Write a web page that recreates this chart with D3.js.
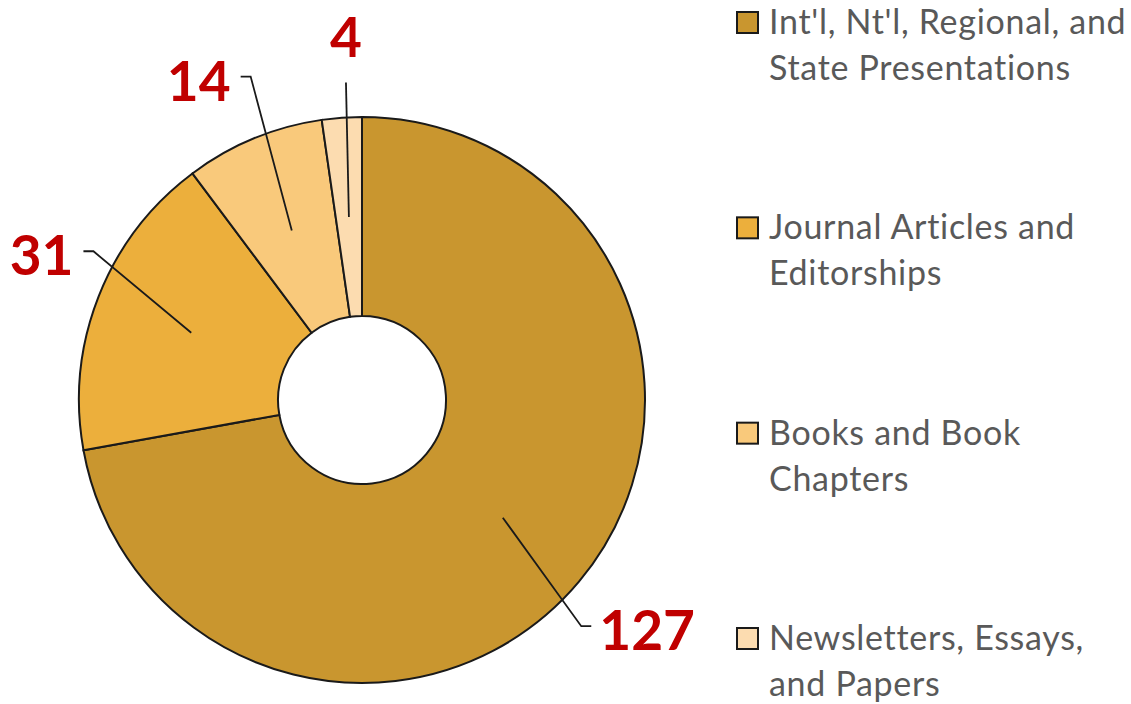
<!DOCTYPE html>
<html>
<head>
<meta charset="utf-8">
<script src="https://cdn.jsdelivr.net/npm/d3@7"></script>
<style>
  body { margin: 0; background: #fff; }
  svg { display: block; }
</style>
</head>
<body>
<script>
// data
const categories = [
  "Int'l, Nt'l, Regional, and State Presentations",
  "Journal Articles and Editorships",
  "Books and Book Chapters",
  "Newsletters, Essays, and Papers"
];
const legendLines = [
  ["Int'l, Nt'l, Regional, and", "State Presentations"],
  ["Journal Articles and", "Editorships"],
  ["Books and Book", "Chapters"],
  ["Newsletters, Essays,", "and Papers"]
];
const counts = [127, 31, 14, 4];
const colors = ["#C9962F", "#ECAF3C", "#F9C97B", "#FCDCB0"];

const w = 1131, h = 704;
const cx = 362, cy = 400;
const outerR = 283, innerR = 84;

const svg = d3.select("body").append("svg")
  .attr("width", w)
  .attr("height", h);

const color = d3.scaleOrdinal().domain(categories).range(colors);

const pie = d3.pie().sort(null).value(d => d.value);
const arcs = pie(categories.map((c, i) => ({ name: c, value: counts[i] })));

const arc = d3.arc().innerRadius(innerR).outerRadius(outerR);

const g = svg.append("g").attr("transform", `translate(${cx},${cy})`);

g.selectAll("path.slice")
  .data(arcs)
  .join("path")
  .attr("class", "slice")
  .attr("d", arc)
  .attr("fill", d => color(d.data.name))
  .attr("stroke", "#1a1a1a")
  .attr("stroke-width", 2);

// label placement (excel moved the labels by hand, so nudge angle / radius per slice)
const labelNudge = [
  { da: 6, r: 315, side: 1 },
  { da: 7.5, r: 307, side: -1 },
  { da: 3.5, r: 342, side: -1 },
  { da: 1.2, r: 318, side: 0 }
];
const rad = Math.PI / 180;
function polar(a, r) { return [r * Math.sin(a), -r * Math.cos(a)]; }

arcs.forEach((d, i) => {
  const n = labelNudge[i];
  const mid = (d.startAngle + d.endAngle) / 2;
  const start = arc.centroid(d);
  const elbow = polar(mid + n.da * rad, n.r);
  const pts = [start, elbow];
  if (n.side !== 0) pts.push([elbow[0] + n.side * 10, elbow[1]]);
  g.append("path")
    .attr("d", d3.line()(pts))
    .attr("fill", "none")
    .attr("stroke", "#1a1a1a")
    .attr("stroke-width", 1.8);

  const last = pts[pts.length - 1];
  const t = g.append("text")
    .text(d.data.value)
    .attr("fill", "#C00000")
    .attr("font-family", "Lato, sans-serif")
    .attr("font-weight", "bold")
    .attr("font-size", 55);
  if (n.side === 1) {
    t.attr("x", last[0] + 8).attr("y", last[1] + 24).attr("text-anchor", "start");
  } else if (n.side === -1) {
    t.attr("x", last[0] - 10).attr("y", last[1] + 24).attr("text-anchor", "end");
  } else {
    t.attr("x", last[0]).attr("y", last[1] - 25).attr("text-anchor", "middle");
  }
});

// legend
const ly = d3.scalePoint().domain(categories).range([34, 650]);
const legend = svg.append("g").attr("id", "legend");

const items = legend.selectAll("g")
  .data(categories)
  .join("g")
  .attr("transform", d => `translate(737,${ly(d)})`);

items.append("rect")
  .attr("x", 0)
  .attr("y", -22)
  .attr("width", 21)
  .attr("height", 21)
  .attr("fill", d => color(d))
  .attr("stroke", "#1a1a1a")
  .attr("stroke-width", 2);

items.append("text")
  .attr("fill", "#595959")
  .attr("font-family", "Lato, sans-serif")
  .attr("font-size", 34)
  .attr("letter-spacing", 0.7)
  .selectAll("tspan")
  .data((d, i) => legendLines[i])
  .join("tspan")
  .attr("x", 32)
  .attr("y", (d, i) => i * 46)
  .text(d => d);
</script>
</body>
</html>
